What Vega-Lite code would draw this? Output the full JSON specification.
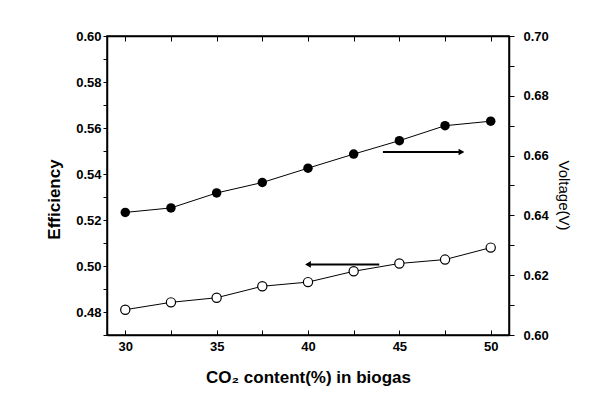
{
  "$schema": "https://vega.github.io/schema/vega-lite/v6.json",
  "width": 402,
  "height": 299,
  "autosize": "none",
  "padding": {"left": 107, "top": 36, "right": 97, "bottom": 72},
  "background": "white",
  "config": {
    "font": "Liberation Sans",
    "view": {"stroke": "black", "strokeWidth": 1.5},
    "axis": {
      "grid": false,
      "domainColor": "black",
      "domainWidth": 1.5,
      "tickColor": "black",
      "tickWidth": 1,
      "labelColor": "black",
      "titleColor": "black",
      "labelFont": "Liberation Sans",
      "titleFont": "Liberation Sans",
      "labelFontSize": 13,
      "labelFontWeight": "bold",
      "labelOverlap": false,
      "labelBound": false,
      "labelFlush": false
    }
  },
  "datasets": {
    "main": [
      {"co2": 30, "eff": 0.481, "volt": 0.641},
      {"co2": 32.5, "eff": 0.4842, "volt": 0.6425},
      {"co2": 35, "eff": 0.4862, "volt": 0.6475},
      {"co2": 37.5, "eff": 0.4912, "volt": 0.651},
      {"co2": 40, "eff": 0.493, "volt": 0.6558},
      {"co2": 42.5, "eff": 0.4977, "volt": 0.6605},
      {"co2": 45, "eff": 0.5011, "volt": 0.665},
      {"co2": 47.5, "eff": 0.5028, "volt": 0.670},
      {"co2": 50, "eff": 0.508, "volt": 0.6715}
    ],
    "arrowEff": [{"co2": 43.9, "co2end": 40.0, "eff": 0.5007}],
    "arrowVolt": [{"co2": 44.1, "co2end": 48.4, "volt": 0.6612}]
  },
  "layer": [
    {
      "encoding": {
        "x": {
          "field": "co2", "type": "quantitative",
          "scale": {"domain": [29, 51], "nice": false, "zero": false},
          "axis": {
            "values": [30, 32.5, 35, 37.5, 40, 42.5, 45, 47.5, 50],
            "labelExpr": "datum.value % 5 === 0 ? datum.label : ''",
            "tickSize": -5,
            "labelPadding": 10,
            "title": "CO₂ content(%) in biogas",
            "titleFontSize": 17,
            "titleFontWeight": "bold",
            "titleBaseline": "middle",
            "titleY": 42
          }
        },
        "y": {
          "field": "eff", "type": "quantitative",
          "scale": {"domain": [0.47, 0.60], "nice": false, "zero": false},
          "axis": {
            "orient": "left",
            "values": [0.47, 0.48, 0.49, 0.5, 0.51, 0.52, 0.53, 0.54, 0.55, 0.56, 0.57, 0.58, 0.59, 0.6],
            "labelExpr": "round(datum.value * 100) % 2 == 0 ? format(datum.value, '.2f') : ''",
            "tickSize": 4,
            "labelPadding": 2,
            "title": "Efficiency",
            "titleFontSize": 17,
            "titleFontWeight": "bold",
            "titleBaseline": "middle",
            "titleAngle": -90,
            "titleX": -53,
            "titleY": 163
          }
        }
      },
      "layer": [
        {
          "data": {"name": "main"},
          "mark": {"type": "line", "color": "black", "strokeWidth": 1}
        },
        {
          "data": {"name": "main"},
          "mark": {"type": "point", "shape": "circle", "filled": true, "fill": "white", "stroke": "black", "strokeWidth": 1.2, "size": 85, "opacity": 1}
        },
        {
          "data": {"name": "arrowEff"},
          "mark": {"type": "rule", "color": "black", "strokeWidth": 2},
          "encoding": {
            "x2": {"field": "co2end"}
          }
        },
        {
          "data": {"name": "arrowEff"},
          "mark": {"type": "point", "shape": "triangle-left", "filled": true, "color": "black", "size": 45, "opacity": 1},
          "encoding": {
            "x": {"field": "co2end", "type": "quantitative"}
          }
        }
      ]
    },
    {
      "encoding": {
        "x": {
          "field": "co2", "type": "quantitative",
          "scale": {"domain": [29, 51], "nice": false, "zero": false},
          "axis": {
            "orient": "top",
            "values": [30, 32.5, 35, 37.5, 40, 42.5, 45, 47.5, 50],
            "labels": false,
            "tickSize": -5,
            "title": null
          }
        },
        "y": {
          "field": "volt", "type": "quantitative",
          "scale": {"domain": [0.6, 0.7], "nice": false, "zero": false},
          "axis": {
            "orient": "right",
            "values": [0.6, 0.61, 0.62, 0.63, 0.64, 0.65, 0.66, 0.67, 0.68, 0.69, 0.7],
            "labelExpr": "round(datum.value * 100) % 2 == 0 ? format(datum.value, '.2f') : ''",
            "tickSize": 5,
            "labelPadding": 9,
            "title": "Voltage(V)",
            "titleFontSize": 15,
            "titleFontWeight": "normal",
            "titleBaseline": "middle",
            "titleAngle": 90,
            "titleX": 54,
            "titleY": 159
          }
        }
      },
      "layer": [
        {
          "data": {"name": "main"},
          "mark": {"type": "line", "color": "black", "strokeWidth": 1}
        },
        {
          "data": {"name": "main"},
          "mark": {"type": "point", "shape": "circle", "filled": true, "color": "black", "size": 90, "opacity": 1}
        },
        {
          "data": {"name": "arrowVolt"},
          "mark": {"type": "rule", "color": "black", "strokeWidth": 2},
          "encoding": {
            "x2": {"field": "co2end"}
          }
        },
        {
          "data": {"name": "arrowVolt"},
          "mark": {"type": "point", "shape": "triangle-right", "filled": true, "color": "black", "size": 45, "opacity": 1},
          "encoding": {
            "x": {"field": "co2end", "type": "quantitative"}
          }
        }
      ]
    }
  ],
  "resolve": {"scale": {"y": "independent", "x": "independent"}}
}
